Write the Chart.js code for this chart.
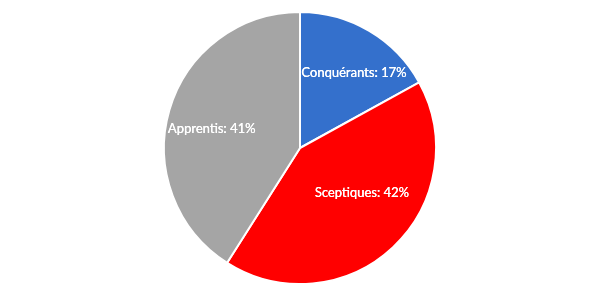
<!DOCTYPE html>
<html><head><meta charset="utf-8">
<script src="https://cdn.jsdelivr.net/npm/chart.js@4"></script>
<style>html,body{margin:0;padding:0;background:#fff}#wrap{width:600px;height:299px}</style>
</head><body><div id="wrap"><canvas id="c" width="600" height="299"></canvas></div>
<script>
const categories = ["Conquérants", "Sceptiques", "Apprentis"];
const values = [17, 42, 41];
const colors = ["#3470CC", "#FF0000", "#A5A5A5"];
// label placement tweaks (radial fraction, angle nudge in degrees)
const labelRadial = [0.68, 0.56, 0.665];
const labelAngleNudge = [5, -11, -4];

const labelPlugin = {
  id: 'sliceLabels',
  afterDatasetsDraw(chart) {
    const ctx = chart.ctx;
    const meta = chart.getDatasetMeta(0);
    const total = values.reduce((a, b) => a + b, 0);
    ctx.save();
    ctx.fillStyle = '#fff';
    ctx.font = '13px Lato, "Open Sans", sans-serif';
    ctx.textAlign = 'center';
    ctx.textBaseline = 'middle';
    meta.data.forEach((arc, i) => {
      const p = arc.getProps(['x', 'y', 'startAngle', 'endAngle', 'outerRadius']);
      const mid = (p.startAngle + p.endAngle) / 2 + labelAngleNudge[i] * Math.PI / 180;
      const r = p.outerRadius * labelRadial[i];
      const x = p.x + Math.cos(mid) * r;
      const y = p.y + Math.sin(mid) * r;
      const pct = Math.round(values[i] / total * 100);
      ctx.fillText(categories[i] + ': ' + pct + '%', x, y);
      ctx.fillText(categories[i] + ': ' + pct + '%', x + 0.3, y);
    });
    ctx.restore();
  }
};

new Chart(document.getElementById('c'), {
  type: 'pie',
  data: {
    labels: categories,
    datasets: [{
      data: values,
      backgroundColor: colors,
      borderColor: '#fff',
      borderWidth: 2
    }]
  },
  options: {
    responsive: false,
    animation: false,
    layout: { padding: { top: 11, bottom: 14, left: 0, right: 0 } },
    plugins: { legend: { display: false }, tooltip: { enabled: false } }
  },
  plugins: [labelPlugin]
});
</script>
</body></html>
